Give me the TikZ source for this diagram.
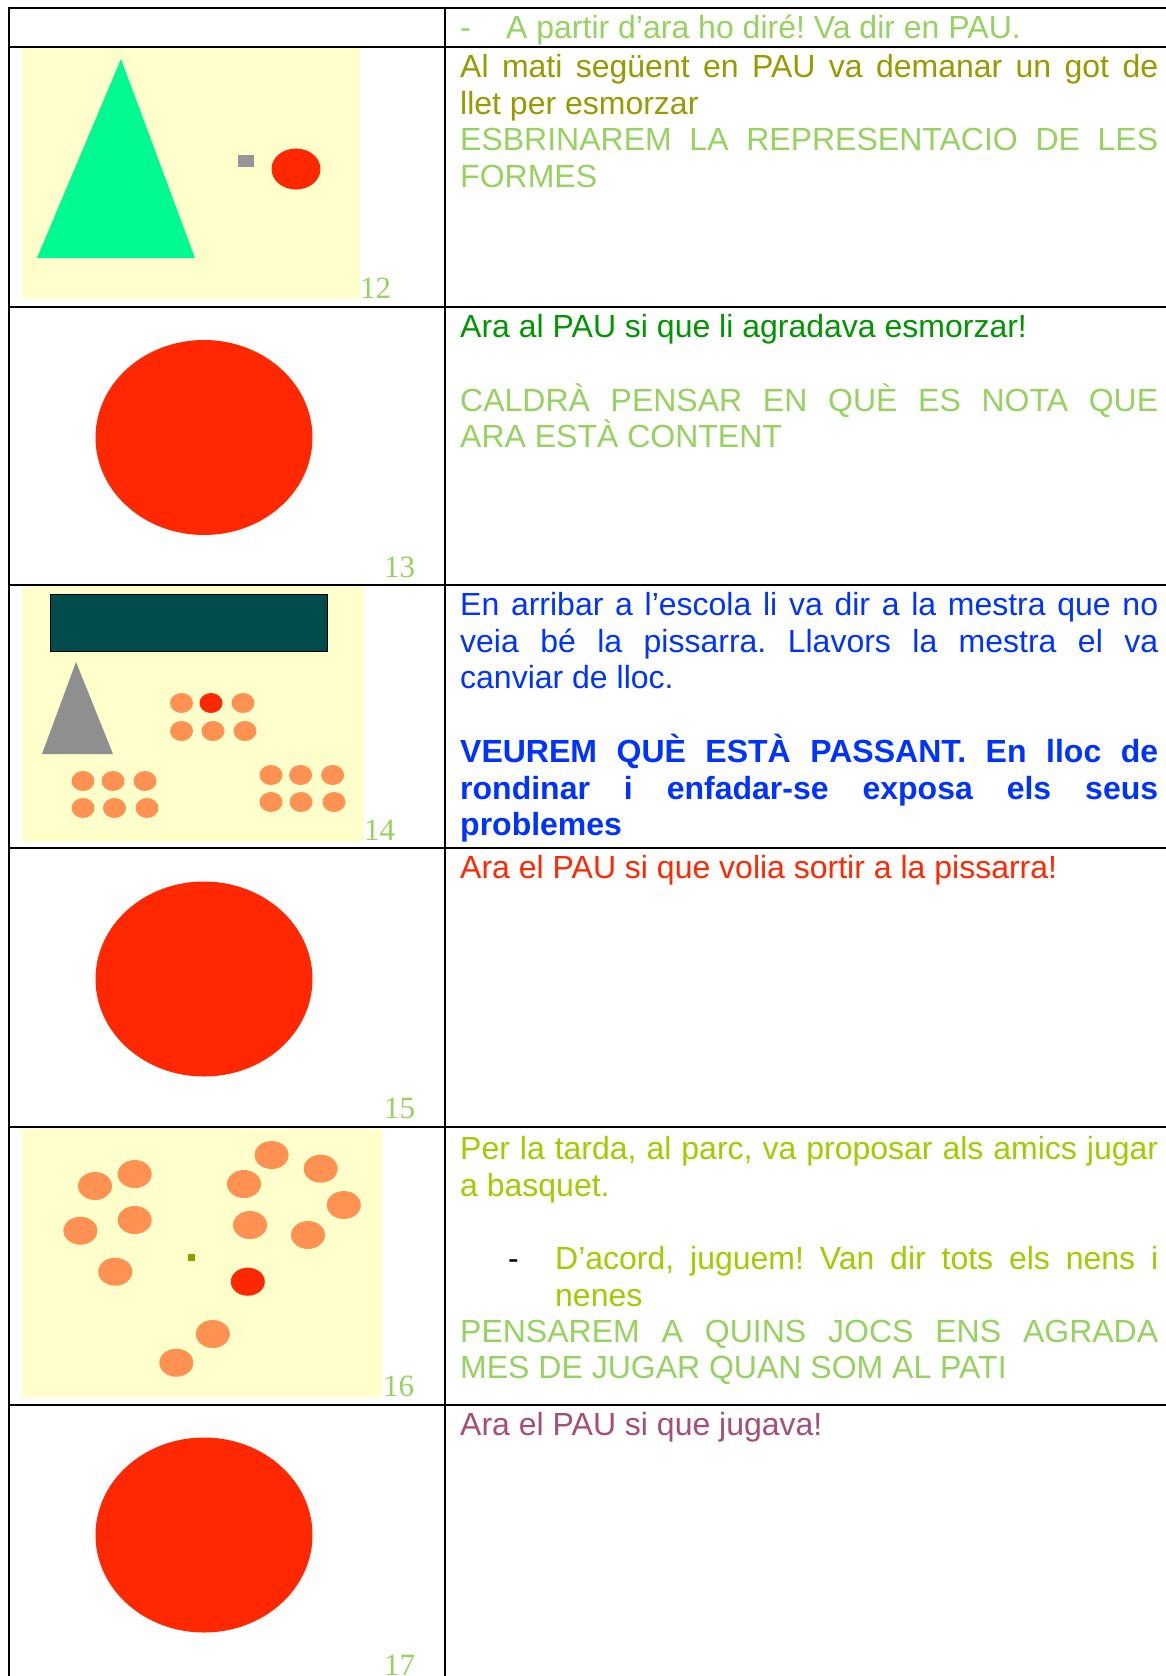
\documentclass[tikz,border=0pt]{standalone}
\usepackage{fontspec}
\setmainfont{Liberation Sans}
\newfontfamily\numfont{Liberation Serif}
\definecolor{lgreen}{RGB}{150,210,95}
\definecolor{olivet}{RGB}{153,153,0}
\definecolor{greent}{RGB}{0,150,0}
\definecolor{bluet}{RGB}{0,51,255}
\definecolor{redt}{RGB}{255,40,0}
\definecolor{ygreen}{RGB}{160,204,0}
\definecolor{plum}{RGB}{166,77,121}
\definecolor{paleyel}{RGB}{255,255,204}
\definecolor{sgreen}{RGB}{0,250,145}
\definecolor{orng}{RGB}{255,145,82}
\definecolor{teal2}{RGB}{0,76,76}
\definecolor{grey1}{RGB}{150,150,150}
\definecolor{grey2}{RGB}{143,143,143}
\newcommand{\jl}[1]{\makebox[698pt][s]{#1}}
\frenchspacing
\begin{document}
\frenchspacing
\begin{tikzpicture}[x=1pt,y=-1pt,
  txt/.style={anchor=base west,inner sep=0pt,font=\fontsize{32}{36.6}\selectfont\frenchspacing},
  num/.style={anchor=base west,inner sep=0pt,text=lgreen,font=\numfont\fontsize{31}{34}\selectfont},
  rule/.style={line width=2pt,black}]
\useasboundingbox (0,0) rectangle (1166,1676);
\clip (0,0) rectangle (1166,1676);
\fill[white] (0,0) rectangle (1166,1676);

% ---- pictures ----
% row 12
\fill[paleyel] (22,48) rectangle (360,299);
\fill[sgreen] (121,59) -- (37,258) -- (195,258) -- cycle;
\fill[grey1] (238,155) rectangle (254,167);
\fill[redt] (296,169) ellipse [x radius=24.5, y radius=20.5];
\node[num] (n12) at (360,298) {12};
% row 13
\fill[redt] (204,437.5) ellipse [x radius=108.5, y radius=97.5];
\node[num] (n13) at (384,577) {13};
% row 14
\fill[paleyel] (22,586) rectangle (364,842);
\draw[fill=teal2,draw=black,line width=1pt] (50,594) rectangle (327,651);
\fill[grey2] (76,662) -- (42,754) -- (113,754) -- cycle;
\foreach \x/\y in {181.5/703,243/703,181.5/731,213/731,245/731,
  83/781,113/781,145/781,83/808,114.5/808,147/808,
  271/775,300.6/775,332.6/775,271/802,301/802,334/802}
  \fill[orng] (\x,\y) ellipse [x radius=11.5, y radius=10];
\fill[redt] (211,703) ellipse [x radius=11.5, y radius=10];
\node[num] (n14) at (364,840) {14};
% row 15
\fill[redt] (204,979) ellipse [x radius=108.5, y radius=97.5];
\node[num] (n15) at (384,1118) {15};
% row 16
\fill[paleyel] (22,1129) rectangle (382,1397);
\foreach \x/\y in {95/1186,134.7/1174,271.6/1155,320.7/1168.7,244/1184,343.8/1205,
  80.4/1230.7,134.7/1220,250/1225,308/1235,115.3/1271.7,212.8/1334,176.3/1362.7}
  \fill[orng] (\x,\y) ellipse [x radius=17, y radius=14];
\fill[redt] (247.8,1281.7) ellipse [x radius=17, y radius=14];
\fill[olivet] (187.5,1254) rectangle (195,1261);
\node[num] (n16) at (383,1396) {16};
% row 17
\fill[redt] (204,1535) ellipse [x radius=108.5, y radius=97.5];
\node[num] (n17) at (384,1675) {17};

% ---- table rules ----
\draw[rule] (9,7.5) -- (1166,7.5);
\foreach \yy in {47,307,585,848,1127,1405}
  \draw[rule] (9,\yy) -- (1166,\yy);
\draw[rule] (9,6.5) -- (9,1676);
\draw[rule] (445,6.5) -- (445,1676);

% ---- texts ----
\node[txt,text=lgreen] (t1a) at (460,38) {-};
\node[txt,text=lgreen] (t1b) at (506,38) {A partir d’ara ho diré! Va dir en PAU.};

\node[txt,text=olivet] (t2a) at (460,77.5) {\jl{Al mati següent en PAU va demanar un got de}};
\node[txt,text=olivet] (t2b) at (460,114) {llet per esmorzar};
\node[txt,text=lgreen] (t2c) at (460,150.5) {\jl{ESBRINAREM LA REPRESENTACIO DE LES}};
\node[txt,text=lgreen] (t2d) at (460,187) {FORMES};

\node[txt,text=greent] (t3a) at (460,337) {Ara al PAU si que li agradava esmorzar!};
\node[txt,text=lgreen] (t3b) at (460,411) {\jl{CALDRÀ PENSAR EN QUÈ ES NOTA QUE}};
\node[txt,text=lgreen] (t3c) at (460,447.7) {ARA ESTÀ CONTENT};

\node[txt,text=bluet] (t4a) at (460,615.3) {\jl{En arribar a l’escola li va dir a la mestra que no}};
\node[txt,text=bluet] (t4b) at (460,652) {\jl{veia bé la pissarra. Llavors la mestra el va}};
\node[txt,text=bluet] (t4c) at (460,688.6) {canviar de lloc.};
\node[txt,text=bluet,font=\fontsize{32}{36.6}\selectfont\bfseries\frenchspacing] (t4d) at (460,762.5) {\jl{VEUREM QUÈ ESTÀ PASSANT. En lloc de}};
\node[txt,text=bluet,font=\fontsize{32}{36.6}\selectfont\bfseries\frenchspacing] (t4e) at (460,799) {\jl{rondinar i enfadar-se exposa els seus}};
\node[txt,text=bluet,font=\fontsize{32}{36.6}\selectfont\bfseries\frenchspacing] (t4f) at (460,835.5) {problemes};

\node[txt,text=redt] (t5a) at (460,878.3) {Ara el PAU si que volia sortir a la pissarra!};

\node[txt,text=ygreen] (t6a) at (460,1159.3) {\jl{Per la tarda, al parc, va proposar als amics jugar}};
\node[txt,text=ygreen] (t6b) at (460,1196) {a basquet.};
\node[txt,text=black] (t6c) at (508,1269) {-};
\node[txt,text=ygreen] (t6d) at (555,1269) {\makebox[603pt][s]{D’acord, juguem! Van dir tots els nens i}};
\node[txt,text=ygreen] (t6e) at (555,1306) {nenes};
\node[txt,text=lgreen] (t6f) at (460,1342.7) {\jl{PENSAREM A QUINS JOCS ENS AGRADA}};
\node[txt,text=lgreen] (t6g) at (460,1378.3) {MES DE JUGAR QUAN SOM AL PATI};

\node[txt,text=plum] (t7a) at (460,1435.3) {Ara el PAU si que jugava!};
\end{tikzpicture}
\end{document}
